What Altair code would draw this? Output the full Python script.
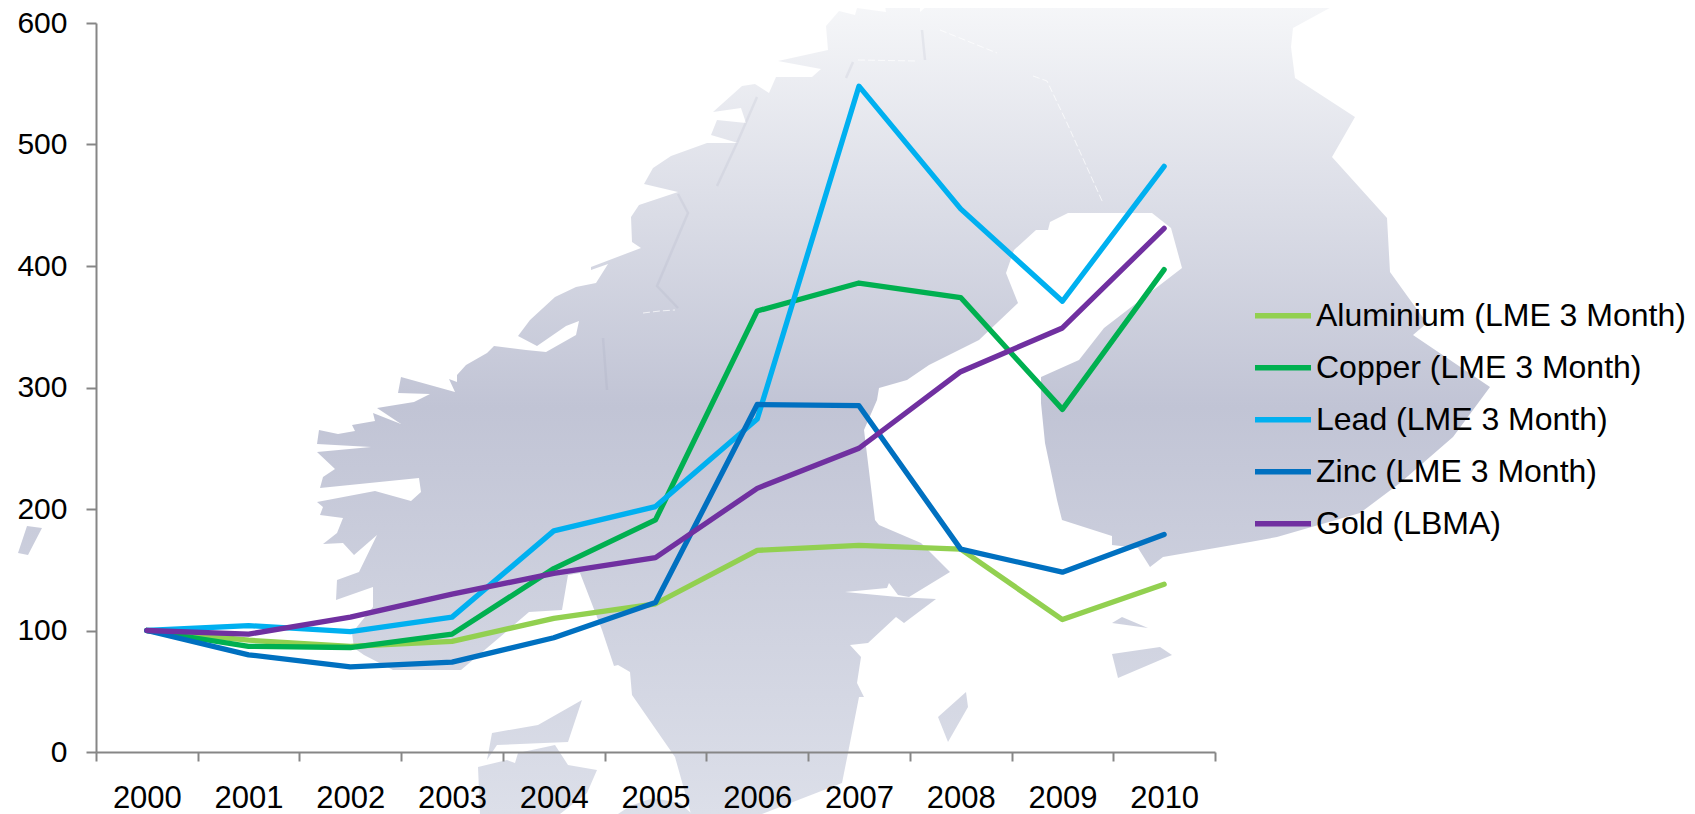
import altair as alt
import pandas as pd

years = ["2000", "2001", "2002", "2003", "2004", "2005", "2006", "2007", "2008", "2009", "2010"]
aluminium = [100, 92, 87, 91, 110, 122, 166, 170, 167, 109, 138]
copper = [100, 87, 86, 97, 151, 191, 363, 386, 374, 282, 397]
lead = [100, 104, 99, 111, 182, 202, 274, 548, 447, 371, 482]
zinc = [100, 80, 70, 74, 94, 123, 286, 285, 167, 148, 179]
gold = [100, 97, 111, 130, 147, 160, 217, 250, 313, 349, 431]
names = ["Aluminium (LME 3 Month)", "Copper (LME 3 Month)", "Lead (LME 3 Month)",
         "Zinc (LME 3 Month)", "Gold (LBMA)"]
colors = ["#92D050", "#00B050", "#00B0F0", "#0070C0", "#7030A0"]

# Decorative backdrop: silhouette of Scandinavia, as a small GeoJSON-style outline
mainland = [
    (1365,0),(1365,3),(1337,4),(1293,28),(1291,47),(1295,78),(1355,117),(1332,157),(1387,218),(1390,272),
    (1408,297),(1427,323),(1413,335),(1490,387),(1453,437),(1400,483),(1360,513),(1277,537),(1250,542),
    (1163,557),(1150,567),(1138,548),(1112,545),(1112,536),(1062,520),(1057,500),(1045,443),(1041,403),
    (1041,377),(1079,360),(1104,328),(1182,268),(1171,228),(1152,213),(1068,213),(1050,222),(1048,230),(1036,230),
    (1014,250),(1006,273),(1018,303),(979,340),(929,365),(907,380),(879,388),(877,400),(864,430),(875,520),
    (879,525),(921,543),(950,572),(909,597),(898,595),(889,583),(887,588),(845,592),(898,597),(936,599),
    (904,623),(896,617),(868,643),(850,645),(861,657),(857,683),(864,697),(859,697),(848,753),(842,783),
    (793,802),(762,814),(691,814),(675,757),(632,695),(630,672),(618,665),(614,666),(602,630),(580,573),
    (568,575),(562,610),(529,612),(500,637),(461,670),(393,670),(364,655),(354,648),(352,633),(373,607),
    (373,587),(336,600),(337,580),(359,572),(377,535),(354,555),(343,543),(323,544),(337,533),(343,518),
    (320,515),(323,507),(317,502),(375,491),(411,501),(421,492),(419,478),(320,488),(323,477),(335,469),
    (317,452),(371,447),(317,444),(319,430),(338,434),(355,431),(352,425),(375,421),(373,413),(401,424),
    (377,408),(414,402),(430,394),(398,393),(401,377),(455,392),(449,379),(457,382),(457,375),(466,365),
    (487,353),(494,346),(526,350),(546,352),(576,335),(579,321),(566,326),(537,346),(518,336),(530,320),
    (555,297),(576,287),(596,283),(608,264),(591,270),(591,267),(641,248),(632,242),(631,217),(639,205),
    (678,192),(644,184),(653,168),(671,156),(707,143),(738,143),(711,135),(717,120),(746,123),(741,108),
    (713,112),(742,86),(755,84),(769,93),(776,77),(812,77),(821,69),(778,61),(828,50),(826,26),(839,11),
    (855,15),(857,8),(886,12),(884,0),(920,0),(920,12),(934,0),
]
inlet_hole = [(380,533),(396,530),(382,546)]
islands = [
    [(27,526),(42,528),(28,555),(18,553)],
    [(487,760),(492,733),(538,725),(582,700),(568,742),(497,745)],
    [(478,767),(507,760),(515,763),(518,753),(555,745),(568,765),(597,770),(587,793),(560,814),(480,814)],
    [(618,814),(630,806),(653,798),(680,803),(692,814)],
    [(966,692),(968,707),(948,742),(938,717)],
    [(1112,623),(1122,617),(1148,628)],
    [(1112,654),(1160,647),(1172,655),(1118,678)],
]
dark_lines = [
    [(757,97),(737,143),(717,186)],
    [(678,194),(688,213),(657,286),(678,308)],
    [(603,338),(607,390)],
    [(922,30),(925,60)],
    [(853,62),(846,78)],
]
white_lines = [
    [(643,313),(660,311),(675,310)],
    [(858,60),(917,61)],
    [(940,30),(997,53)],
    [(1033,76),(1047,81),(1067,123),(1103,203)],
]


def ring(points):
    pts = [list(p) for p in points]
    return pts + [pts[0]]


land = {
    "type": "Feature",
    "properties": {},
    "geometry": {
        "type": "MultiPolygon",
        "coordinates": [[ring(mainland), ring(inlet_hole)]] + [[ring(i)] for i in islands],
    },
}


def multiline(lines):
    return {
        "type": "Feature",
        "properties": {},
        "geometry": {"type": "MultiLineString", "coordinates": [[list(p) for p in l] for l in lines]},
    }


df = pd.DataFrame(
    [
        {"Year": y, "Series": n, "Value": v}
        for n, vals in zip(names, [aluminium, copper, lead, zinc, gold])
        for y, v in zip(years, vals)
    ]
)

proj = alt.Projection(type="identity", scale=1, translate=[-96, -23])

land_layer = alt.Chart(alt.Data(values=[land])).mark_geoshape(
    clip=False,
    strokeWidth=0,
    fill=alt.Gradient(
        gradient="linear",
        x1=0, x2=0, y1=0, y2=1,
        stops=[
            alt.GradientStop(offset=0, color="#f6f7f9"),
            alt.GradientStop(offset=0.5, color="#c1c4d5"),
            alt.GradientStop(offset=1, color="#dcdfe9"),
        ],
    ),
).project(**proj.to_dict())

dark_layer = alt.Chart(alt.Data(values=[multiline(dark_lines)])).mark_geoshape(
    clip=False, filled=False, stroke="#8f93ad", strokeWidth=2.5, opacity=0.12
).project(**proj.to_dict())

white_layer = alt.Chart(alt.Data(values=[multiline(white_lines)])).mark_geoshape(
    clip=False, filled=False, stroke="#ffffff", strokeWidth=0.7, strokeDash=[7, 3]
).project(**proj.to_dict())

lines = alt.Chart(df).mark_line(strokeWidth=5.3, strokeCap="round", strokeJoin="round").encode(
    x=alt.X(
        "Year:N",
        sort=years,
        title=None,
        scale=alt.Scale(type="band", domain=years, paddingInner=0, paddingOuter=0),
        axis=alt.Axis(
            labelAngle=0, labelFontSize=31, labelFont="Liberation Sans", labelColor="#000000",
            labelPadding=22, tickBand="extent", tickSize=9, tickWidth=2, tickColor="#868686",
            domainColor="#868686", domainWidth=2, grid=False, labelOverlap=False, zindex=1,
        ),
    ),
    y=alt.Y(
        "Value:Q",
        title=None,
        scale=alt.Scale(domain=[0, 600], nice=False),
        axis=alt.Axis(
            values=[0, 100, 200, 300, 400, 500, 600], labelFontSize=30, labelFont="Liberation Sans",
            labelColor="#000000", labelPadding=19, tickSize=10, tickWidth=2, tickColor="#868686",
            domainColor="#868686", domainWidth=2, grid=False, labelFlush=False, zindex=1,
        ),
    ),
    color=alt.Color(
        "Series:N",
        sort=names,
        scale=alt.Scale(domain=names, range=colors),
        legend=alt.Legend(
            title=None, orient="none", legendX=1156, legendY=267, symbolType="stroke",
            symbolSize=3136, symbolStrokeWidth=5.3, labelFontSize=32, labelFont="Liberation Sans",
            labelColor="#000000", labelLimit=600, labelOffset=2, clipHeight=51.5, rowPadding=0,
            padding=0,
        ),
    ),
)

chart = (
    alt.layer(land_layer, dark_layer, white_layer, lines)
    .properties(
        width=1119,
        height=729,
        padding={"left": 88, "top": 15, "right": 472, "bottom": 62},
        autosize=alt.AutoSizeParams(type="none"),
        background="#ffffff",
    )
    .configure_view(stroke=None)
)

chart.save("out.html", embed_options={"renderer": "svg", "actions": False})
